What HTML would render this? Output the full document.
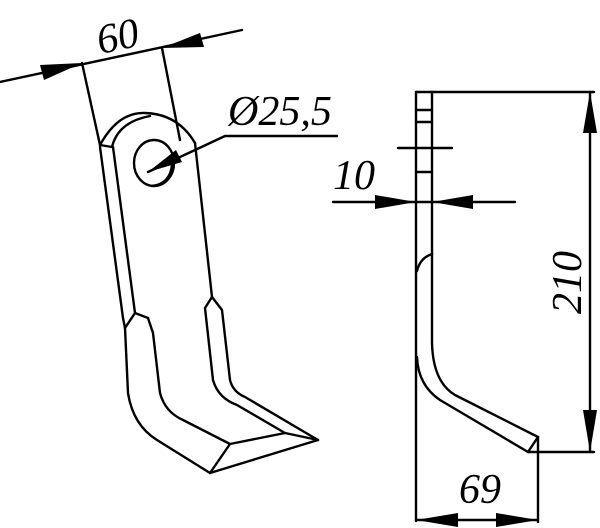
<!DOCTYPE html>
<html><head><style>
html,body{margin:0;padding:0;background:#fff;}
svg{display:block;}
text{font-family:"Liberation Serif",serif;font-style:italic;fill:#000;}
</style></head><body>
<svg width="600" height="528" viewBox="0 0 600 528" xmlns="http://www.w3.org/2000/svg">
<g fill="none" stroke="#000" stroke-width="2.4" stroke-linejoin="round" stroke-linecap="round">
<line x1="0" y1="82" x2="242" y2="30"/>
<line x1="82" y1="63" x2="100" y2="145"/>
<line x1="162" y1="48" x2="180" y2="140"/>
<path d="M100,145 Q118,112 145,113 Q178,114 195,143"/>
<path d="M112,147 Q118,122 150,116"/>
<line x1="100" y1="145" x2="112" y2="147"/>
<path d="M100,147 L123,318 L125,328 L128,393 Q133,425 157,440 L210,473 L318,440"/>
<path d="M113,147 L135,313 L148,318 L153,333 L160,393 Q165,412 183,420 L230,444 L285,433 L318,440"/>
<line x1="125" y1="328" x2="135" y2="313"/>
<line x1="210" y1="473" x2="230" y2="444"/>
<path d="M195,143 L212,297 L222,310 L230,380 Q233,392 245,397 L318,440"/>
<path d="M212,297 L205,308 L213,380 Q218,398 237,405 L285,433"/>
<ellipse cx="154" cy="163" rx="20" ry="23"/>
<path d="M152,186 Q170,184 172,165"/>
<polyline points="148,172 225,136 337,136"/>
<line x1="416" y1="92" x2="416" y2="521"/>
<path d="M432,92 L432,343 Q433,382 455,395 L538,437"/>
<path d="M417,357 Q418,385 440,400 L528,452"/>
<line x1="528" y1="452" x2="538" y2="437"/>
<path d="M417,271 Q420,258 432,254"/>
<line x1="416" y1="92" x2="432" y2="92"/>
<line x1="416" y1="110" x2="432" y2="110"/>
<line x1="416" y1="122" x2="432" y2="122"/>
<line x1="416" y1="172" x2="432" y2="172"/>
<line x1="398" y1="148" x2="452" y2="148"/>
<line x1="432" y1="92" x2="594" y2="92"/>
<line x1="528" y1="452" x2="594" y2="452"/>
<line x1="590" y1="92" x2="590" y2="452"/>
<line x1="333" y1="202" x2="515" y2="202"/>
<line x1="538" y1="437" x2="538" y2="522"/>
<line x1="416" y1="520" x2="538" y2="520"/>
</g>
<g fill="#000">
<polygon points="82,63 40,65 44,80"/>
<polygon points="162,48 200,33 204,47"/>
<polygon points="148,172 176,150 182,162"/>
<polygon points="416,202 375,195 375,209"/>
<polygon points="432,202 473,195 473,209"/>
<polygon points="590,92 583,133 597,133"/>
<polygon points="590,452 583,410 597,410"/>
<polygon points="416,520 458,513 458,527"/>
<polygon points="538,520 496,513 496,527"/>
</g>
<text x="97" y="50" font-size="42" transform="rotate(-12 118 38)">60</text>
<text x="228" y="125" font-size="42">Ø25,5</text>
<text x="333" y="189" font-size="42">10</text>
<text x="459" y="503" font-size="42">69</text>
<text x="0" y="0" font-size="42" transform="translate(581,314) rotate(-90)">210</text>
</svg>
</body></html>
